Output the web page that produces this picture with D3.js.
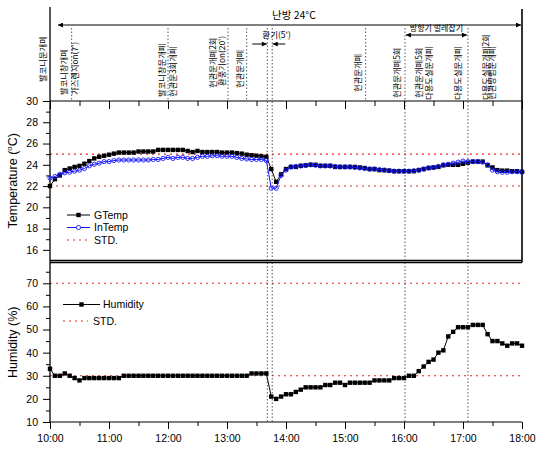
<!DOCTYPE html>
<html>
<head>
<meta charset="utf-8">
<script src="https://cdn.jsdelivr.net/npm/d3@7"></script>
<style>
  body { margin: 0; background: #fff; }
  svg text { font-family: Arial, "Liberation Sans", sans-serif; fill: #000; }
  svg text.kr { font-family: "Noto Sans CJK KR", sans-serif; }
</style>
</head>
<body>
<svg id="chart"></svg>
<script>
// 5분 간격 측정값 (10:00 ~ 18:00)
const gTemp = [
  22.0, 22.65, 23.0, 23.5, 23.65, 23.8, 23.9, 24.1, 24.35, 24.6,
  24.75, 24.85, 24.95, 25.05, 25.15, 25.15, 25.15, 25.15, 25.25, 25.25,
  25.25, 25.25, 25.4, 25.4, 25.4, 25.4, 25.4, 25.4, 25.3, 25.2,
  25.3, 25.2, 25.2, 25.2, 25.2, 25.15, 25.15, 25.15, 25.1, 25.05,
  24.95, 24.9, 24.85, 24.8, 24.75, 23.6, 22.4, 23.1, 23.6, 23.8,
  23.8, 23.9, 23.95, 24.0, 24.0, 23.9, 23.9, 23.9, 23.8, 23.8,
  23.8, 23.8, 23.8, 23.75, 23.7, 23.6, 23.6, 23.5, 23.5, 23.45,
  23.4, 23.4, 23.4, 23.4, 23.4, 23.5, 23.6, 23.7, 23.75, 23.8,
  23.95, 24.0, 24.0, 24.0, 24.1, 24.2, 24.3, 24.3, 24.3, 23.95,
  23.75, 23.5, 23.45, 23.45, 23.4, 23.4, 23.35
];
const inTemp = [
  22.75, 22.9, 23.1, 23.25, 23.3, 23.4, 23.5, 23.65, 23.9, 24.05,
  24.15, 24.3, 24.3, 24.4, 24.45, 24.45, 24.45, 24.45, 24.45, 24.45,
  24.45, 24.5, 24.5, 24.6, 24.7, 24.6, 24.7, 24.7, 24.6, 24.6,
  24.7, 24.8, 24.8, 24.85, 24.85, 24.8, 24.8, 24.8, 24.7, 24.6,
  24.55, 24.5, 24.5, 24.5, 24.4, 21.8, 21.8, 23.0, 23.5, 23.8,
  23.85, 23.9, 23.95, 24.0, 23.95, 23.9, 23.9, 23.9, 23.85, 23.8,
  23.8, 23.8, 23.75, 23.7, 23.65, 23.6, 23.6, 23.55, 23.5, 23.45,
  23.4, 23.4, 23.4, 23.4, 23.45, 23.5, 23.6, 23.7, 23.75, 23.85,
  24.0, 24.05, 24.15, 24.25, 24.35, 24.3, 24.3, 24.3, 24.25, 24.0,
  23.5, 23.35, 23.3, 23.3, 23.35, 23.35, 23.3
];
const humidity = [
  33, 30, 30, 31, 30, 29, 28, 29, 29, 29,
  29, 29, 29, 29, 29, 30, 30, 30, 30, 30,
  30, 30, 30, 30, 30, 30, 30, 30, 30, 30,
  30, 30, 30, 30, 30, 30, 30, 30, 30, 30,
  30, 31, 31, 31, 31, 21, 20, 21, 22, 22,
  23, 24, 25, 25, 25, 25, 26, 26, 27, 27,
  26, 27, 27, 27, 27, 27, 28, 28, 28, 28,
  29, 29, 29, 30, 30, 32, 34, 36, 37, 40,
  41, 47, 49, 51, 51, 51, 52, 52, 52, 48,
  45, 45, 44, 43, 44, 44, 43
];
const tempStd = [22, 25];
const humStd = [30, 70];
const tempTicks = [16, 18, 20, 22, 24, 26, 28, 30];
const humTicks = [10, 20, 30, 40, 50, 60, 70];
const hourLabels = ["10:00", "11:00", "12:00", "13:00", "14:00", "15:00", "16:00", "17:00", "18:00"];

// 이벤트 (시각)
const fullLines = ["13:41", "13:46", "16:01", "17:05"];
const headLines = ["10:22", "12:00", "13:01", "13:20", "15:21"];
const notes = [
  ["09:53", "발코니문개폐"],
  ["10:14", "발코니창개폐"],
  ["10:26", "가스렌지on(7')"],
  ["11:54", "발코니창문개폐"],
  ["12:05", "현관문3회개폐"],
  ["12:46", "현관문개폐2회"],
  ["12:55", "환풍기on(20')"],
  ["13:13", "현관문개폐"],
  ["15:13", "현관문개폐"],
  ["15:53", "현관문개폐5회"],
  ["16:15", "현관문개폐5회"],
  ["16:26", "다용도실문개폐"],
  ["16:55", "다용도실문개폐"],
  ["17:23", "다용도실문개폐2회"],
  ["17:30", "현관방범문개폐"]
];
const noteBottom = [82, 95, 95, 97, 97, 88, 86, 88, 92, 98, 98, 100, 100, 100, 100];
const heatingLabel = "난방 24°C";
const ventLabel = "환기(5')";
const bugLabel = "방향기 벌레잡기";
const bugSpan = ["16:02", "17:04"];

const width = 537, height = 451;
const parse = d3.timeParse("%H:%M");
const times = gTemp.map((_, i) => new Date(1900, 0, 1, 10, i * 5));

const x = d3.scaleTime().domain([parse("10:00"), parse("18:00")]).range([50, 522]);
const yT = d3.scaleLinear().domain([15, 30]).range([260.5, 101]);
const yH = d3.scaleLinear().domain([10, 79]).range([422, 262.5]);

const svg = d3.select("#chart").attr("width", width).attr("height", height);
svg.append("rect").attr("width", width).attr("height", height).attr("fill", "#fff");

const defs = svg.append("defs");
defs.append("marker")
  .attr("id", "arrow")
  .attr("viewBox", "0 0 10 10")
  .attr("refX", 10).attr("refY", 5)
  .attr("markerWidth", 7).attr("markerHeight", 5)
  .attr("markerUnits", "userSpaceOnUse")
  .attr("orient", "auto-start-reverse")
  .append("path").attr("d", "M0,0L10,5L0,10Z").attr("fill", "#000");

// 기준선 (STD)
const stdLayer = svg.append("g");
tempStd.forEach((v) => {
  stdLayer.append("line")
    .attr("x1", x.range()[0]).attr("x2", x.range()[1])
    .attr("y1", yT(v)).attr("y2", yT(v))
    .attr("stroke", "#e8282a").attr("stroke-width", 1.1)
    .attr("stroke-dasharray", "2,4");
});
humStd.forEach((v) => {
  stdLayer.append("line")
    .attr("x1", x.range()[0]).attr("x2", x.range()[1])
    .attr("y1", yH(v)).attr("y2", yH(v))
    .attr("stroke", "#e8282a").attr("stroke-width", 1.1)
    .attr("stroke-dasharray", "2,4");
});

// 이벤트 점선
const eventLayer = svg.append("g")
  .attr("stroke", "#444").attr("stroke-width", 0.9).attr("stroke-dasharray", "1.5,2");
headLines.forEach((t) => {
  eventLayer.append("line")
    .attr("x1", x(parse(t))).attr("x2", x(parse(t)))
    .attr("y1", 28).attr("y2", 101);
});
fullLines.forEach((t) => {
  eventLayer.append("line")
    .attr("x1", x(parse(t))).attr("x2", x(parse(t)))
    .attr("y1", 28).attr("y2", yH.range()[0]);
});

// 축
const hourDates = hourLabels.map(parse);
const halfDates = hourDates.slice(0, -1).map((d) => d3.timeMinute.offset(d, 30));

function styleAxis(g) {
  g.attr("font-family", null);
  g.select(".domain").remove();
  g.selectAll("line").attr("stroke", "#000").attr("stroke-width", 1);
  g.selectAll("text").attr("font-size", 10.5).attr("fill", "#000");
}

svg.append("g").attr("transform", `translate(0,${yH.range()[0]})`)
  .call(d3.axisBottom(x).tickValues(hourDates).tickSize(7).tickPadding(6).tickFormat(d3.timeFormat("%H:%M")))
  .call(styleAxis);
svg.append("g").attr("transform", `translate(0,${yH.range()[0]})`)
  .call(d3.axisBottom(x).tickValues(halfDates).tickSize(4).tickFormat(""))
  .call(styleAxis);

// 온도 패널 상단 눈금 (안쪽)
svg.append("g").attr("transform", `translate(0,${yT.range()[1]})`)
  .call(d3.axisBottom(x).tickValues(hourDates).tickSize(8).tickFormat(""))
  .call(styleAxis);
svg.append("g").attr("transform", `translate(0,${yT.range()[1]})`)
  .call(d3.axisBottom(x).tickValues(halfDates).tickSize(5).tickFormat(""))
  .call(styleAxis);

svg.append("g").attr("transform", `translate(${x.range()[0]},0)`)
  .call(d3.axisLeft(yT).tickValues(tempTicks).tickSize(7).tickPadding(5))
  .call(styleAxis);
svg.append("g").attr("transform", `translate(${x.range()[0]},0)`)
  .call(d3.axisLeft(yT).tickValues(d3.range(17, 30, 2)).tickSize(4).tickFormat(""))
  .call(styleAxis);
svg.append("g").attr("transform", `translate(${x.range()[0]},0)`)
  .call(d3.axisLeft(yH).tickValues(humTicks).tickSize(7).tickPadding(5))
  .call(styleAxis);
svg.append("g").attr("transform", `translate(${x.range()[0]},0)`)
  .call(d3.axisLeft(yH).tickValues(d3.range(15, 79, 10)).tickSize(4).tickFormat(""))
  .call(styleAxis);

// 프레임
const frame = svg.append("g").attr("stroke", "#000").attr("fill", "none");
const [x0, x1] = x.range();
frame.append("line").attr("x1", x0).attr("x2", x0).attr("y1", 7).attr("y2", yH.range()[0]).attr("stroke-width", 1.3);
frame.append("line").attr("x1", x1).attr("x2", x1).attr("y1", 9).attr("y2", yH.range()[1]).attr("stroke-width", 1.6);
frame.append("line").attr("x1", x0).attr("x2", x1).attr("y1", yT.range()[1]).attr("y2", yT.range()[1]).attr("stroke-width", 1.2);
frame.append("line").attr("x1", x0).attr("x2", x1).attr("y1", yT.range()[0]).attr("y2", yT.range()[0]).attr("stroke-width", 1.4);
frame.append("line").attr("x1", x0).attr("x2", x1).attr("y1", yH.range()[1]).attr("y2", yH.range()[1]).attr("stroke-width", 1.4);
frame.append("line").attr("x1", x0).attr("x2", x1).attr("y1", yH.range()[0]).attr("y2", yH.range()[0]).attr("stroke-width", 1.2);

// 데이터 선
const lineT = (vals) => d3.line().x((d, i) => x(times[i])).y((d) => yT(d))(vals);
const lineH = d3.line().x((d, i) => x(times[i])).y((d) => yH(d));

svg.append("path").attr("d", lineT(gTemp)).attr("fill", "none").attr("stroke", "#000").attr("stroke-width", 1);
svg.append("g").selectAll("rect").data(gTemp).enter().append("rect")
  .attr("x", (d, i) => x(times[i]) - 2.2).attr("y", (d) => yT(d) - 2.2)
  .attr("width", 4.4).attr("height", 4.4).attr("fill", "#000");

svg.append("path").attr("d", lineT(inTemp)).attr("fill", "none").attr("stroke", "#1515ff").attr("stroke-width", 1);
svg.append("g").selectAll("circle").data(inTemp).enter().append("circle")
  .attr("cx", (d, i) => x(times[i])).attr("cy", (d) => yT(d)).attr("r", 2.1)
  .attr("fill", "none").attr("stroke", "#1515ff").attr("stroke-width", 0.9);

svg.append("path").attr("d", lineH(humidity)).attr("fill", "none").attr("stroke", "#000").attr("stroke-width", 1);
svg.append("g").selectAll("rect").data(humidity).enter().append("rect")
  .attr("x", (d, i) => x(times[i]) - 2.2).attr("y", (d) => yH(d) - 2.2)
  .attr("width", 4.4).attr("height", 4.4).attr("fill", "#000");

// 축 제목
svg.append("text")
  .attr("transform", `translate(17,${(yT.range()[0] + yT.range()[1]) / 2}) rotate(-90)`)
  .attr("text-anchor", "middle").attr("font-size", 12.5)
  .call((t) => {
    t.append("tspan").text("Temperature (");
    t.append("tspan").attr("font-size", 8).attr("dy", -5).text("o");
    t.append("tspan").attr("dy", 5).text("C)");
  });
svg.append("text")
  .attr("transform", `translate(17,${(yH.range()[0] + yH.range()[1]) / 2}) rotate(-90)`)
  .attr("text-anchor", "middle").attr("font-size", 12.5)
  .text("Humidity (%)");

// 범례
function legendItem(y, type, color, label, lx0, lx1, tx) {
  const g = svg.append("g");
  if (type === "std") {
    g.append("line").attr("x1", lx0).attr("x2", lx1).attr("y1", y).attr("y2", y)
      .attr("stroke", "#e8282a").attr("stroke-width", 1.1).attr("stroke-dasharray", "2,4");
  } else {
    g.append("line").attr("x1", lx0).attr("x2", lx1).attr("y1", y).attr("y2", y)
      .attr("stroke", color).attr("stroke-width", 1);
    const cx = (lx0 + lx1) / 2;
    if (type === "square") {
      g.append("rect").attr("x", cx - 2.2).attr("y", y - 2.2).attr("width", 4.4).attr("height", 4.4).attr("fill", color);
    } else {
      g.append("circle").attr("cx", cx).attr("cy", y).attr("r", 2.1)
        .attr("fill", "#fff").attr("stroke", color).attr("stroke-width", 0.9);
    }
  }
  g.append("text").attr("x", tx).attr("y", y).attr("dy", "0.35em").attr("font-size", 10.5).text(label);
}
legendItem(215, "square", "#000", "GTemp", 67, 90, 94);
legendItem(227.5, "circle", "#1515ff", "InTemp", 67, 90, 94);
legendItem(240, "std", null, "STD.", 67, 90, 94);
legendItem(304.5, "square", "#000", "Humidity", 63, 100, 103);
legendItem(321, "std", null, "STD.", 63, 88, 93);

// 상단 주석
svg.append("line")
  .attr("x1", x0 + 8).attr("x2", x1 - 1).attr("y1", 25).attr("y2", 25)
  .attr("stroke", "#000").attr("stroke-width", 1)
  .attr("marker-start", "url(#arrow)").attr("marker-end", "url(#arrow)");
svg.append("text").attr("class", "kr").attr("x", 272).attr("y", 19)
  .attr("font-size", 10.5).text(heatingLabel);

notes.forEach(([t, label], i) => {
  svg.append("text").attr("class", "kr")
    .attr("transform", `translate(${x(parse(t))},${noteBottom[i]}) rotate(-90)`)
    .attr("dy", "0.35em").attr("font-size", 8.3).attr("fill", "#222")
    .text(label);
});

// 환기 5분 화살표
const vA = x(parse(fullLines[0])), vB = x(parse(fullLines[1]));
svg.append("text").attr("class", "kr").attr("x", vA - 5).attr("y", 38)
  .attr("font-size", 8.5).text(ventLabel);
svg.append("line").attr("x1", vA - 15).attr("x2", vA - 0.5).attr("y1", 44).attr("y2", 44)
  .attr("stroke", "#000").attr("marker-end", "url(#arrow)");
svg.append("line").attr("x1", vB + 13).attr("x2", vB + 0.5).attr("y1", 44).attr("y2", 44)
  .attr("stroke", "#000").attr("marker-end", "url(#arrow)");

// 벌레잡기 구간 화살표
const bA = x(parse(bugSpan[0])), bB = x(parse(bugSpan[1]));
svg.append("line").attr("x1", bA).attr("x2", bB).attr("y1", 35).attr("y2", 35)
  .attr("stroke", "#000").attr("stroke-width", 1)
  .attr("marker-start", "url(#arrow)").attr("marker-end", "url(#arrow)");
svg.append("text").attr("class", "kr").attr("x", (bA + bB) / 2).attr("y", 31)
  .attr("text-anchor", "middle").attr("font-size", 8).attr("fill", "#222").text(bugLabel);
</script>
</body>
</html>
